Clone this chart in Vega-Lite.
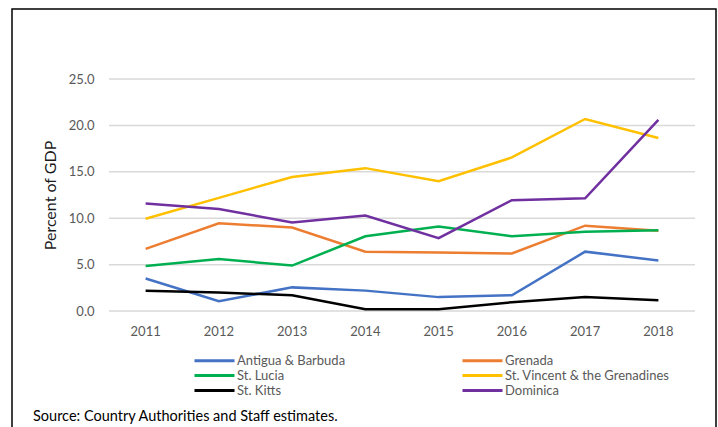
{
  "$schema": "https://vega.github.io/schema/vega-lite/v6.json",
  "width": 704,
  "height": 421,
  "autosize": {"type": "none"},
  "padding": {"left": 12, "top": 9, "right": 2, "bottom": 0},
  "background": "white",
  "config": {
    "view": {"stroke": "#000000", "strokeWidth": 1.5},
    "font": "Lato"
  },
  "title": {
    "text": "Source: Country Authorities and Staff estimates.",
    "orient": "top",
    "anchor": "start",
    "frame": "group",
    "fontSize": 14.5,
    "fontWeight": "normal",
    "color": "#000000",
    "font": "Lato",
    "dx": 21,
    "dy": 419
  },
  "resolve": {"scale": {"x": "independent"}},
  "datasets": {
    "grid": [{"v": 0}, {"v": 5}, {"v": 10}, {"v": 15}, {"v": 20}, {"v": 25}],
    "series": [
      {"year": "2011", "country": "Antigua & Barbuda", "value": 3.5},
      {"year": "2012", "country": "Antigua & Barbuda", "value": 1.05},
      {"year": "2013", "country": "Antigua & Barbuda", "value": 2.55},
      {"year": "2014", "country": "Antigua & Barbuda", "value": 2.2},
      {"year": "2015", "country": "Antigua & Barbuda", "value": 1.5},
      {"year": "2016", "country": "Antigua & Barbuda", "value": 1.7},
      {"year": "2017", "country": "Antigua & Barbuda", "value": 6.4},
      {"year": "2018", "country": "Antigua & Barbuda", "value": 5.45},
      {"year": "2011", "country": "Grenada", "value": 6.7},
      {"year": "2012", "country": "Grenada", "value": 9.45},
      {"year": "2013", "country": "Grenada", "value": 9.0},
      {"year": "2014", "country": "Grenada", "value": 6.4},
      {"year": "2015", "country": "Grenada", "value": 6.3},
      {"year": "2016", "country": "Grenada", "value": 6.2},
      {"year": "2017", "country": "Grenada", "value": 9.2},
      {"year": "2018", "country": "Grenada", "value": 8.65},
      {"year": "2011", "country": "St. Lucia", "value": 4.85},
      {"year": "2012", "country": "St. Lucia", "value": 5.6},
      {"year": "2013", "country": "St. Lucia", "value": 4.9},
      {"year": "2014", "country": "St. Lucia", "value": 8.05},
      {"year": "2015", "country": "St. Lucia", "value": 9.1},
      {"year": "2016", "country": "St. Lucia", "value": 8.05},
      {"year": "2017", "country": "St. Lucia", "value": 8.55},
      {"year": "2018", "country": "St. Lucia", "value": 8.7},
      {"year": "2011", "country": "St. Vincent & the Grenadines", "value": 9.95},
      {"year": "2012", "country": "St. Vincent & the Grenadines", "value": 12.2},
      {"year": "2013", "country": "St. Vincent & the Grenadines", "value": 14.45},
      {"year": "2014", "country": "St. Vincent & the Grenadines", "value": 15.4},
      {"year": "2015", "country": "St. Vincent & the Grenadines", "value": 14.0},
      {"year": "2016", "country": "St. Vincent & the Grenadines", "value": 16.55},
      {"year": "2017", "country": "St. Vincent & the Grenadines", "value": 20.7},
      {"year": "2018", "country": "St. Vincent & the Grenadines", "value": 18.65},
      {"year": "2011", "country": "St. Kitts", "value": 2.2},
      {"year": "2012", "country": "St. Kitts", "value": 2.0},
      {"year": "2013", "country": "St. Kitts", "value": 1.7},
      {"year": "2014", "country": "St. Kitts", "value": 0.2},
      {"year": "2015", "country": "St. Kitts", "value": 0.2},
      {"year": "2016", "country": "St. Kitts", "value": 0.95},
      {"year": "2017", "country": "St. Kitts", "value": 1.5},
      {"year": "2018", "country": "St. Kitts", "value": 1.15},
      {"year": "2011", "country": "Dominica", "value": 11.6},
      {"year": "2012", "country": "Dominica", "value": 11.0},
      {"year": "2013", "country": "Dominica", "value": 9.55},
      {"year": "2014", "country": "Dominica", "value": 10.3},
      {"year": "2015", "country": "Dominica", "value": 7.85},
      {"year": "2016", "country": "Dominica", "value": 11.95},
      {"year": "2017", "country": "Dominica", "value": 12.15},
      {"year": "2018", "country": "Dominica", "value": 20.6}
    ]
  },
  "layer": [
    {
      "data": {"name": "grid"},
      "mark": {"type": "rule", "color": "#d9d9d9", "strokeWidth": 1.5},
      "encoding": {
        "y": {"field": "v", "type": "quantitative"},
        "x": {"datum": 0, "type": "quantitative", "scale": {"domain": [-0.1655, 1.0358], "nice": false, "zero": false}, "axis": null},
        "x2": {"datum": 1}
      }
    },
    {
      "data": {"name": "series"},
      "mark": {"type": "line", "strokeWidth": 2.5},
      "encoding": {
        "x": {
          "field": "year",
          "type": "nominal",
          "sort": ["2011", "2012", "2013", "2014", "2015", "2016", "2017", "2018"],
          "scale": {"type": "band", "domain": ["2011", "2012", "2013", "2014", "2015", "2016", "2017", "2018"], "paddingInner": 0, "paddingOuter": 0.8055, "align": 0.822},
          "axis": {
            "title": null,
            "labelAngle": 0,
            "ticks": false,
            "domain": false,
            "grid": false,
            "offset": -119,
            "labelPadding": 14,
            "labelFontSize": 13,
            "labelColor": "#595959",
            "labelFont": "Lato"
          }
        },
        "y": {
          "field": "value",
          "type": "quantitative",
          "scale": {"domain": [-12.82, 32.55], "nice": false, "zero": false},
          "axis": {
            "title": "Percent of GDP",
            "values": [0, 5, 10, 15, 20, 25],
            "format": ".1f",
            "grid": false,
            "ticks": false,
            "domain": false,
            "offset": -97,
            "labelPadding": 15,
            "labelFontSize": 13,
            "labelColor": "#595959",
            "labelFont": "Lato",
            "titleFont": "Lato",
            "titleFontSize": 16,
            "titleFontWeight": "normal",
            "titleColor": "#1a1a1a",
            "titleX": -59,
            "titleY": 186,
            "titleBaseline": "middle",
            "titleAlign": "center"
          }
        },
        "color": {
          "field": "country",
          "type": "nominal",
          "scale": {
            "domain": ["Antigua & Barbuda", "St. Lucia", "St. Kitts", "Grenada", "St. Vincent & the Grenadines", "Dominica"],
            "range": ["#4472C4", "#00B050", "#000000", "#ED7D31", "#FFC000", "#7030A0"]
          },
          "legend": {
            "title": null,
            "orient": "none",
            "legendX": 211,
            "legendY": 345,
            "columns": 2,
            "columnPadding": 110,
            "rowPadding": 1,
            "padding": 0,
            "symbolType": "M-7,0H1",
            "symbolSize": 100,
            "symbolStrokeWidth": 3,
            "labelOffset": 1,
            "labelFontSize": 13,
            "labelColor": "#595959",
            "labelFont": "Lato",
            "labelLimit": 300
          }
        }
      }
    }
  ]
}
